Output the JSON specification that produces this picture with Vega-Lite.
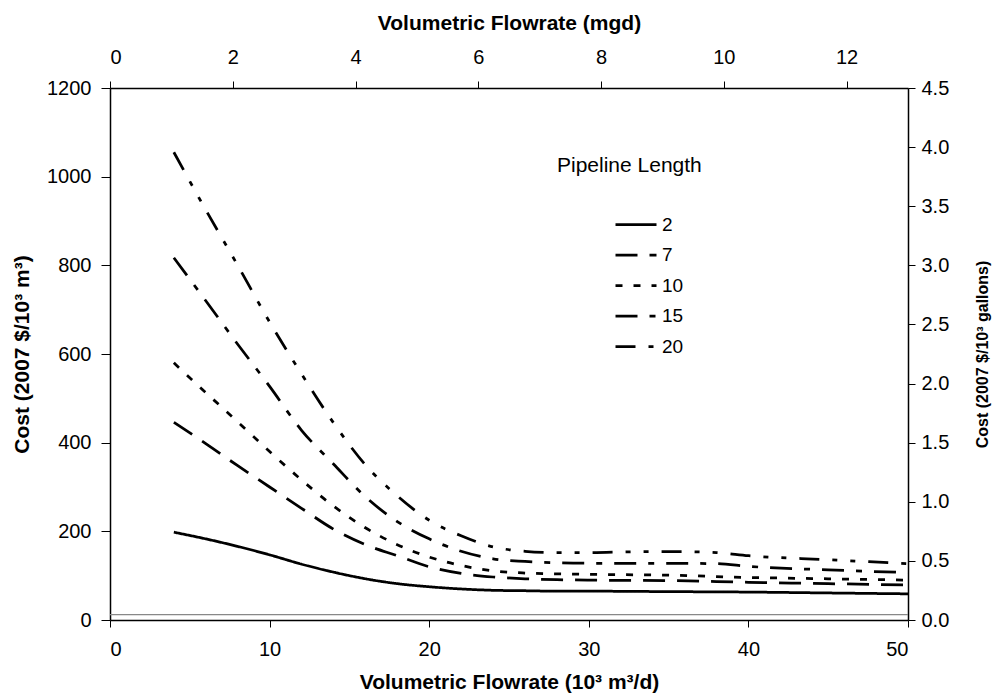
{
  "$schema": "https://vega.github.io/schema/vega-lite/v6.json",
  "width": 798,
  "height": 532,
  "autosize": {"type": "none"},
  "padding": {"left": 110, "top": 88, "right": 92, "bottom": 76},
  "background": "white",
  "config": {
    "font": "Liberation Sans",
    "view": {"stroke": null},
    "axis": {
      "grid": false,
      "domainColor": "black",
      "domainWidth": 1.5,
      "tickColor": "black",
      "tickWidth": 1,
      "tickSize": 7,
      "labelColor": "black",
      "titleColor": "black",
      "labelFont": "Liberation Sans",
      "titleFont": "Liberation Sans",
      "labelFontSize": 20,
      "titleFontSize": 21,
      "titleFontWeight": "bold",
      "labelPadding": 6
    }
  },
  "datasets": {
    "curves": [
      {"length": "2", "flow": 4, "cost": 198}, {"length": "2", "flow": 6, "cost": 183}, {"length": "2", "flow": 8, "cost": 166}, {"length": "2", "flow": 10, "cost": 147}, {"length": "2", "flow": 12, "cost": 126}, {"length": "2", "flow": 14, "cost": 108}, {"length": "2", "flow": 16, "cost": 93}, {"length": "2", "flow": 18, "cost": 82}, {"length": "2", "flow": 20, "cost": 75}, {"length": "2", "flow": 22, "cost": 70}, {"length": "2", "flow": 24, "cost": 67}, {"length": "2", "flow": 26, "cost": 66}, {"length": "2", "flow": 28, "cost": 65}, {"length": "2", "flow": 30, "cost": 65}, {"length": "2", "flow": 35, "cost": 64}, {"length": "2", "flow": 40, "cost": 63}, {"length": "2", "flow": 45, "cost": 61}, {"length": "2", "flow": 50, "cost": 59},
      {"length": "7", "flow": 4, "cost": 446}, {"length": "7", "flow": 6, "cost": 398}, {"length": "7", "flow": 8, "cost": 348}, {"length": "7", "flow": 10, "cost": 300}, {"length": "7", "flow": 12, "cost": 252}, {"length": "7", "flow": 14, "cost": 205}, {"length": "7", "flow": 16, "cost": 170}, {"length": "7", "flow": 18, "cost": 145}, {"length": "7", "flow": 20, "cost": 120}, {"length": "7", "flow": 22, "cost": 105}, {"length": "7", "flow": 24, "cost": 97}, {"length": "7", "flow": 26, "cost": 93}, {"length": "7", "flow": 28, "cost": 91}, {"length": "7", "flow": 30, "cost": 90}, {"length": "7", "flow": 35, "cost": 89}, {"length": "7", "flow": 40, "cost": 85}, {"length": "7", "flow": 45, "cost": 82}, {"length": "7", "flow": 50, "cost": 79},
      {"length": "10", "flow": 4, "cost": 580}, {"length": "10", "flow": 6, "cost": 513}, {"length": "10", "flow": 8, "cost": 447}, {"length": "10", "flow": 10, "cost": 380}, {"length": "10", "flow": 12, "cost": 316}, {"length": "10", "flow": 14, "cost": 257}, {"length": "10", "flow": 16, "cost": 208}, {"length": "10", "flow": 18, "cost": 170}, {"length": "10", "flow": 20, "cost": 142}, {"length": "10", "flow": 22, "cost": 123}, {"length": "10", "flow": 24, "cost": 111}, {"length": "10", "flow": 26, "cost": 106}, {"length": "10", "flow": 28, "cost": 104}, {"length": "10", "flow": 30, "cost": 103}, {"length": "10", "flow": 35, "cost": 101}, {"length": "10", "flow": 40, "cost": 96}, {"length": "10", "flow": 45, "cost": 93}, {"length": "10", "flow": 50, "cost": 90},
      {"length": "15", "flow": 4, "cost": 817}, {"length": "15", "flow": 6, "cost": 720}, {"length": "15", "flow": 8, "cost": 622}, {"length": "15", "flow": 10, "cost": 527}, {"length": "15", "flow": 12, "cost": 428}, {"length": "15", "flow": 14, "cost": 352}, {"length": "15", "flow": 16, "cost": 278}, {"length": "15", "flow": 18, "cost": 222}, {"length": "15", "flow": 20, "cost": 183}, {"length": "15", "flow": 22, "cost": 155}, {"length": "15", "flow": 24, "cost": 138}, {"length": "15", "flow": 26, "cost": 132}, {"length": "15", "flow": 28, "cost": 129}, {"length": "15", "flow": 30, "cost": 128}, {"length": "15", "flow": 35, "cost": 128}, {"length": "15", "flow": 38, "cost": 127}, {"length": "15", "flow": 40, "cost": 121}, {"length": "15", "flow": 45, "cost": 113}, {"length": "15", "flow": 50, "cost": 107},
      {"length": "20", "flow": 4, "cost": 1055}, {"length": "20", "flow": 6, "cost": 925}, {"length": "20", "flow": 8, "cost": 800}, {"length": "20", "flow": 10, "cost": 672}, {"length": "20", "flow": 12, "cost": 555}, {"length": "20", "flow": 14, "cost": 445}, {"length": "20", "flow": 16, "cost": 350}, {"length": "20", "flow": 18, "cost": 280}, {"length": "20", "flow": 20, "cost": 225}, {"length": "20", "flow": 22, "cost": 190}, {"length": "20", "flow": 24, "cost": 165}, {"length": "20", "flow": 26, "cost": 155}, {"length": "20", "flow": 28, "cost": 152}, {"length": "20", "flow": 30, "cost": 152}, {"length": "20", "flow": 33, "cost": 154}, {"length": "20", "flow": 36, "cost": 154}, {"length": "20", "flow": 38, "cost": 152}, {"length": "20", "flow": 40, "cost": 145}, {"length": "20", "flow": 45, "cost": 136}, {"length": "20", "flow": 50, "cost": 127}
    ],
    "baseline": [{"cost": 12}],
    "secondary": [{"mgd": 0, "gal": 0}, {"mgd": 13, "gal": 4.5}]
  },
  "layer": [
    {
      "layer": [
        {
          "data": {"name": "baseline"},
          "mark": {"type": "rule", "color": "#888888", "strokeWidth": 1.2},
          "encoding": {
            "y": {"field": "cost", "type": "quantitative", "scale": {"domain": [0, 1200]}}
          }
        },
        {
          "data": {"name": "curves"},
          "mark": {"type": "line", "interpolate": "monotone", "color": "black", "strokeWidth": 2.75},
          "encoding": {
            "x": {
              "field": "flow", "type": "quantitative",
              "scale": {"domain": [0, 50], "nice": false},
              "axis": {"orient": "bottom", "values": [0, 10, 20, 30, 40, 50], "title": "Volumetric Flowrate (10³ m³/d)", "labelPadding": 12, "titlePadding": 12}
            },
            "y": {
              "field": "cost", "type": "quantitative",
              "scale": {"domain": [0, 1200], "nice": false},
              "axis": {"orient": "left", "values": [0, 200, 400, 600, 800, 1000, 1200], "format": "d", "title": "Cost (2007 $/10³ m³)", "tickSize": 9, "labelPadding": 10, "titlePadding": 14}
            },
            "strokeDash": {
              "field": "length", "type": "nominal",
              "sort": ["2", "7", "10", "15", "20"],
              "scale": {
                "domain": ["2", "7", "10", "15", "20"],
                "range": [[1, 0], [22, 12], [7, 11], [22, 12, 6, 12], [20, 13, 5, 13, 5, 13]]
              },
              "legend": {
                "orient": "none",
                "legendX": 447,
                "legendY": 67,
                "title": "Pipeline Length",
                "titleFont": "Liberation Sans",
                "titleFontSize": 21,
                "titleFontWeight": "normal",
                "titleColor": "black",
                "titlePadding": 34,
                "symbolOffset": 57,
                "symbolType": "stroke",
                "symbolSize": 1681,
                "symbolStrokeWidth": 2.75,
                "symbolStrokeColor": "black",
                "labelFont": "Liberation Sans",
                "labelFontSize": 19,
                "labelColor": "black",
                "labelOffset": 4,
                "clipHeight": 29,
                "rowPadding": 1.5
              }
            }
          }
        }
      ]
    },
    {
      "data": {"name": "secondary"},
      "mark": {"type": "point", "opacity": 0},
      "encoding": {
        "x": {
          "field": "mgd", "type": "quantitative",
          "scale": {"domain": [0, 13], "nice": false},
          "axis": {"orient": "top", "values": [0, 2, 4, 6, 8, 10, 12], "title": "Volumetric Flowrate (mgd)", "labelPadding": 14, "titlePadding": 14}
        },
        "y": {
          "field": "gal", "type": "quantitative",
          "scale": {"domain": [0, 4.5], "nice": false},
          "axis": {"orient": "right", "values": [0, 0.5, 1, 1.5, 2, 2.5, 3, 3.5, 4, 4.5], "format": ".1f", "title": "Cost (2007 $/10³ gallons)", "titleFontSize": 16, "titleAngle": -90, "titleBaseline": "top", "labelPadding": 6, "titlePadding": 26}
        }
      }
    }
  ],
  "resolve": {"scale": {"x": "independent", "y": "independent"}}
}
